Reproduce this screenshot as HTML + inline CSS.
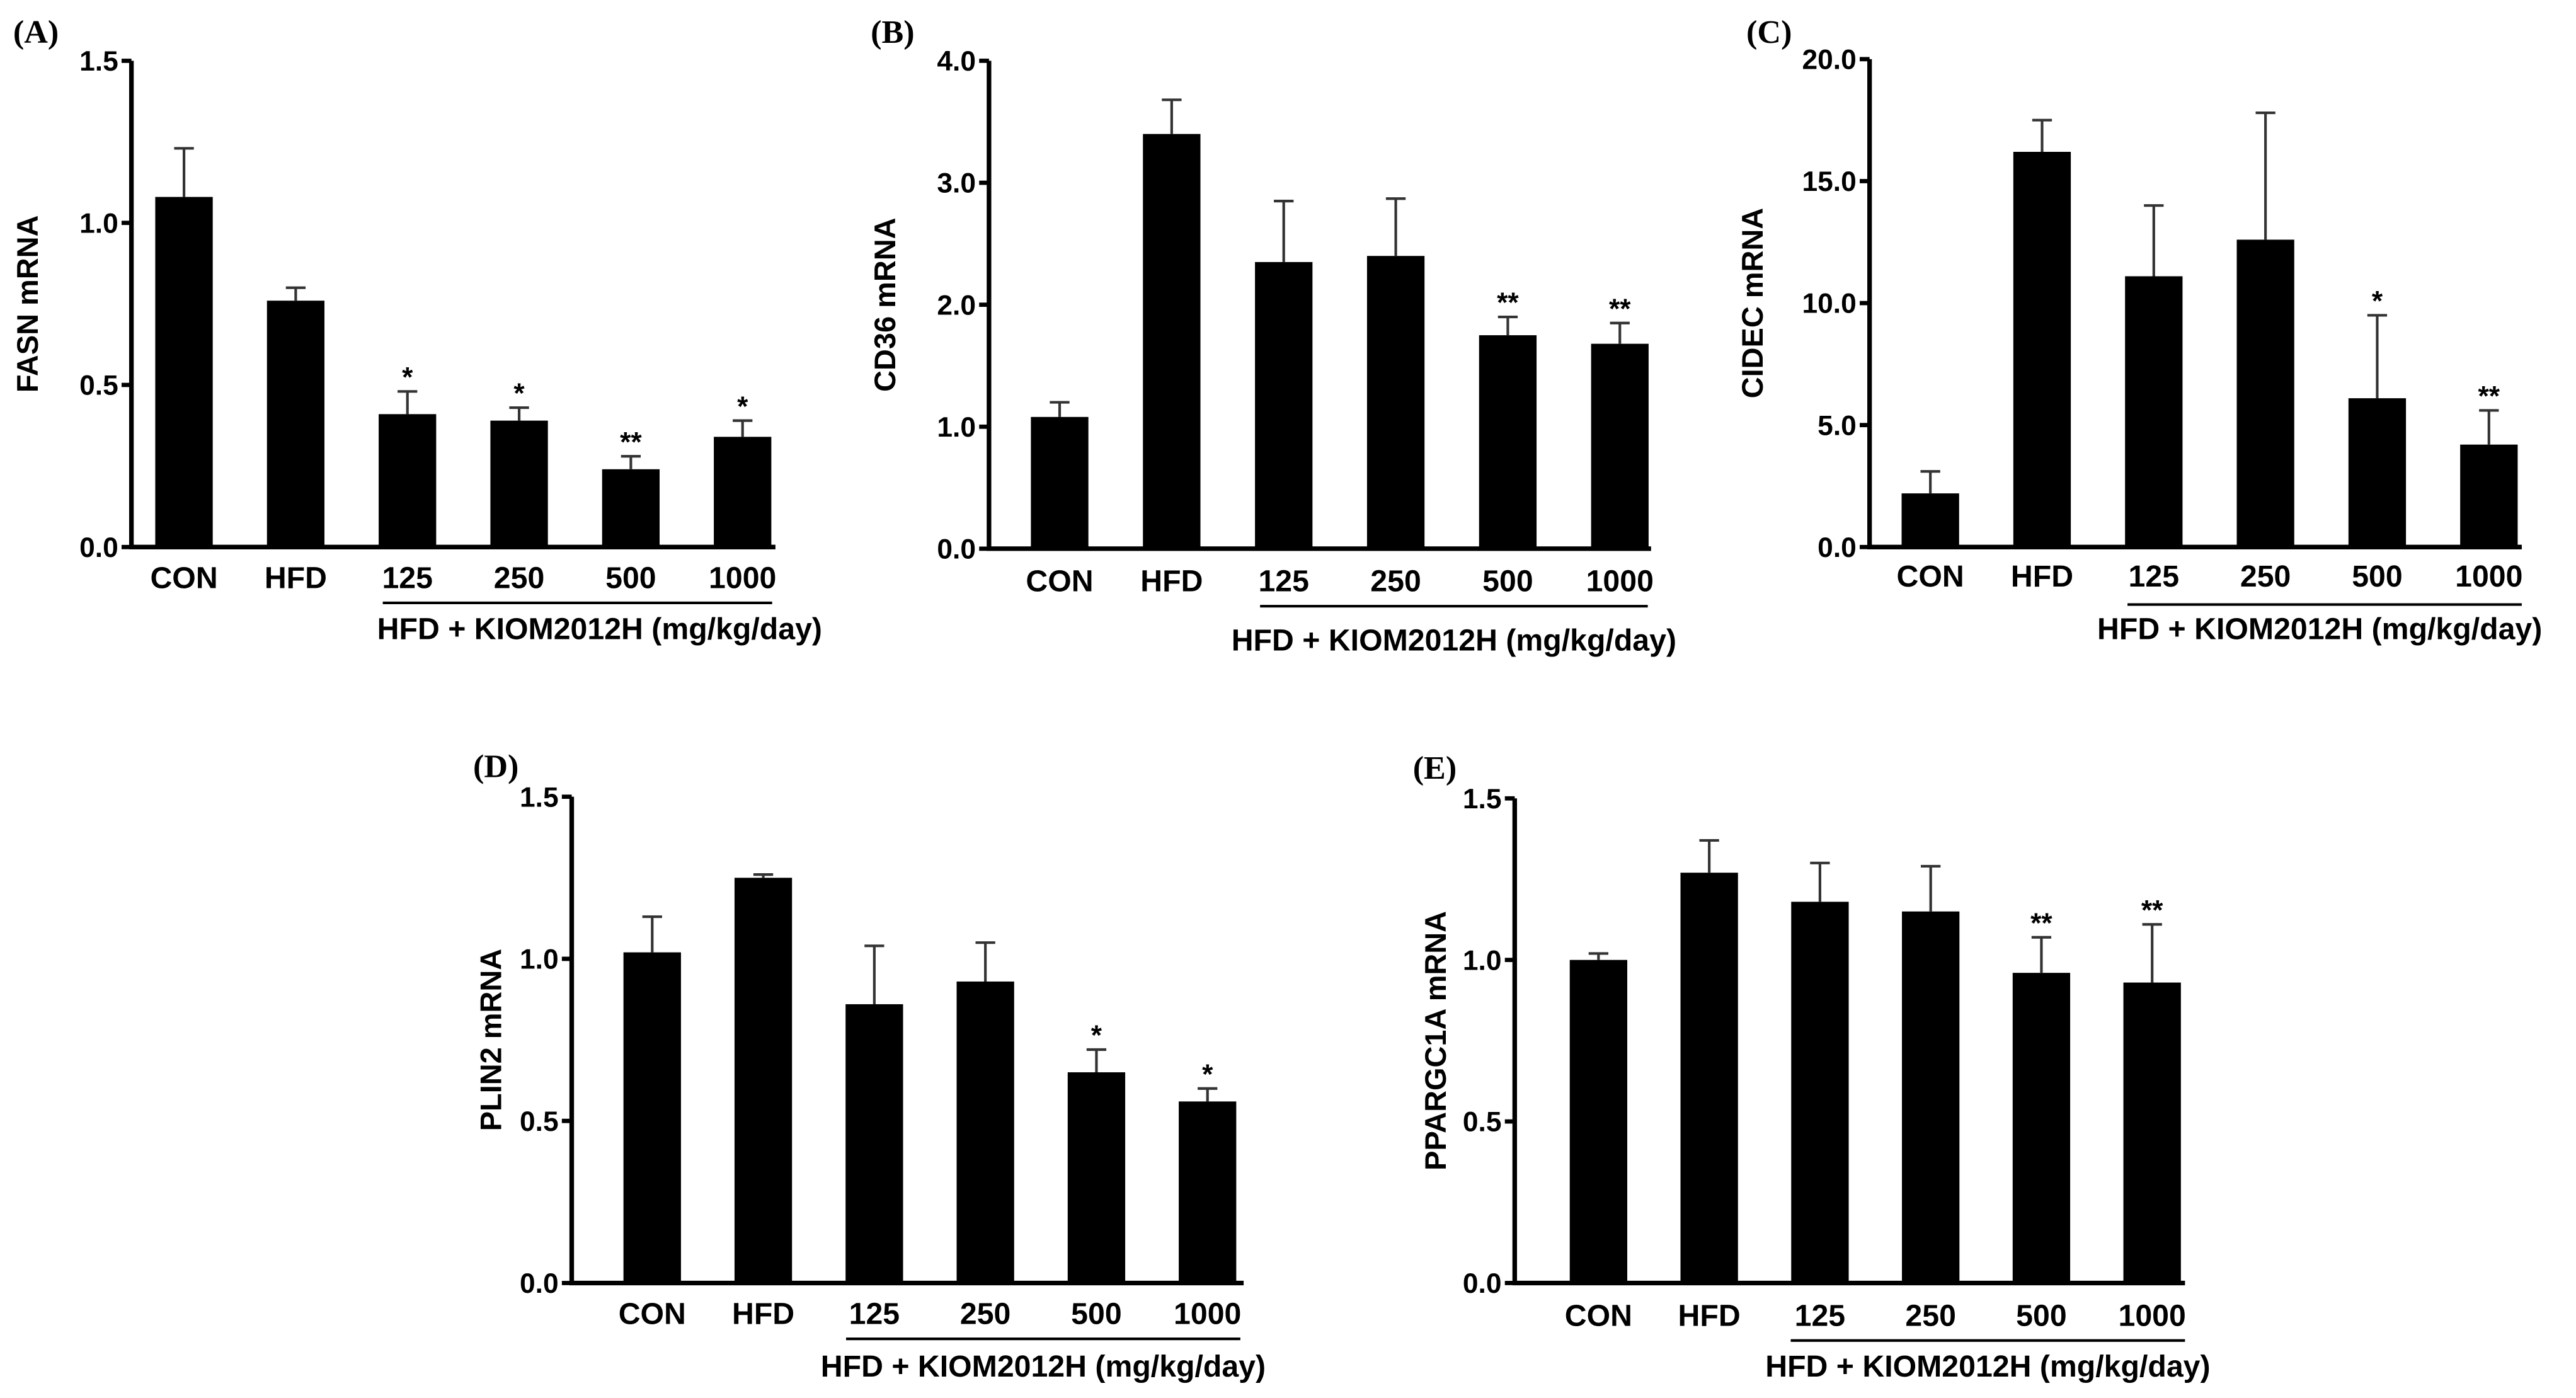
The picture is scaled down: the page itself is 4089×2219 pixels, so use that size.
<!DOCTYPE html>
<html><head><meta charset="utf-8"><style>
html,body{margin:0;padding:0;background:#fff;}
svg{display:block;}
text{font-family:"Liberation Sans",sans-serif;font-weight:bold;fill:#000;}
.pl{font-family:"Liberation Serif",serif;}
</style></head><body>
<svg id="fig" width="4089" height="2219" viewBox="0 0 1568 851" preserveAspectRatio="none" xmlns="http://www.w3.org/2000/svg"></svg>
<script>
const categories = ["CON","HFD","125","250","500","1000"];
const fasnValues = [1.08,0.76,0.41,0.39,0.24,0.34];
const fasnErrors = [0.15,0.04,0.07,0.04,0.04,0.05];
const fasnStars = ["","","*","*","**","*"];
const fasnTicks = ["0.0","0.5","1.0","1.5"];
const cd36Values = [1.08,3.40,2.35,2.40,1.75,1.68];
const cd36Errors = [0.12,0.28,0.50,0.47,0.15,0.17];
const cd36Stars = ["","","","","**","**"];
const cd36Ticks = ["0.0","1.0","2.0","3.0","4.0"];
const cidecValues = [2.2,16.2,11.1,12.6,6.1,4.2];
const cidecErrors = [0.9,1.3,2.9,5.2,3.4,1.4];
const cidecStars = ["","","","","*","**"];
const cidecTicks = ["0.0","5.0","10.0","15.0","20.0"];
const plin2Values = [1.02,1.25,0.86,0.93,0.65,0.56];
const plin2Errors = [0.11,0.01,0.18,0.12,0.07,0.04];
const plin2Stars = ["","","","","*","*"];
const plin2Ticks = ["0.0","0.5","1.0","1.5"];
const pgcValues = [1.00,1.27,1.18,1.15,0.96,0.93];
const pgcErrors = [0.02,0.10,0.12,0.14,0.11,0.18];
const pgcStars = ["","","","","**","**"];
const pgcTicks = ["0.0","0.5","1.0","1.5"];

const NS="http://www.w3.org/2000/svg";
const svg=document.getElementById('fig');
function mk(tag,attrs,parent){const e=document.createElementNS(NS,tag);for(const k in attrs)e.setAttribute(k,attrs[k]);(parent||svg).appendChild(e);return e;}

const panels=[
 {id:"a",label:"(A)",lx:8,ly:26,ax:80,top:37,bot:333,right:472,x0:112,step:68,yl:"FASN mRNA",ylx:18,vals:fasnValues,errs:fasnErrors,stars:fasnStars,ticks:fasnTicks,max:1.5,labY:358,ulY:367,ulX1:233,ulX2:470,capY:389,capX:365},
 {id:"b",label:"(B)",lx:530,ly:26,ax:602,top:37,bot:334,right:1005,x0:645,step:68.2,yl:"CD36 mRNA",ylx:540,vals:cd36Values,errs:cd36Errors,stars:cd36Stars,ticks:cd36Ticks,max:4.0,labY:360,ulY:369,ulX1:767,ulX2:1003,capY:396,capX:885},
 {id:"c",label:"(C)",lx:1063,ly:26,ax:1138,top:36,bot:333,right:1535,x0:1175,step:68,yl:"CIDEC mRNA",ylx:1068,vals:cidecValues,errs:cidecErrors,stars:cidecStars,ticks:cidecTicks,max:20,labY:357,ulY:368,ulX1:1295,ulX2:1535,capY:389,capX:1412},
 {id:"d",label:"(D)",lx:288,ly:473,ax:348,top:485,bot:781,right:757,x0:397,step:67.6,yl:"PLIN2 mRNA",ylx:300,vals:plin2Values,errs:plin2Errors,stars:plin2Stars,ticks:plin2Ticks,max:1.5,labY:806,ulY:815,ulX1:515,ulX2:755,capY:838,capX:635},
 {id:"e",label:"(E)",lx:860,ly:474,ax:922,top:486,bot:781,right:1330,x0:973,step:67.4,yl:"PPARGC1A mRNA",ylx:875,vals:pgcValues,errs:pgcErrors,stars:pgcStars,ticks:pgcTicks,max:1.5,labY:807,ulY:816,ulX1:1090,ulX2:1330,capY:838,capX:1210}
];

panels.forEach(p=>{
 const g=mk('g',{});
 
 
 const yScale=v=>p.bot-(v/p.max)*(p.bot-p.top);
 const xScale=i=>p.x0+i*p.step;
 const pl=mk('text',{x:p.lx,y:p.ly,'font-size':20,class:'pl'},g);pl.textContent=p.label;
 
 
 const bw=35;
 p.vals.forEach((v,i)=>{
  const cx=xScale(i),yt=yScale(v),ye=yScale(v+p.errs[i]);
  const b=mk('rect',{x:cx-bw/2,y:yt,width:bw,height:p.bot-yt,fill:'#000'},g);
  
  
  const e=mk('path',{d:`M${cx},${yt} V${ye} M${cx-6},${ye} H${cx+6}`,stroke:'#333',"stroke-width":1.6,fill:'none'},g);
  
  
  if(p.stars[i]){const s=mk('text',{x:cx,y:ye-3,'font-size':17,'text-anchor':'middle','font-weight':'normal'},g);s.textContent=p.stars[i];
   
   }
  const l=mk('text',{x:cx,y:p.labY,'font-size':18.5,'text-anchor':'middle'},g);l.textContent=categories[i];
  
  
 });
 const ax=mk('path',{d:`M${p.ax},${p.top} V${p.bot} H${p.right}`,stroke:'#000','stroke-width':2.8,fill:'none'},g);
 
 
 p.ticks.forEach((t,i)=>{
  const y=yScale(parseFloat(t));
  mk('line',{x1:p.ax-6,x2:p.ax,y1:y,y2:y,stroke:'#000','stroke-width':2.6},g);
  const tl=mk('text',{x:p.ax-8,y:y+6,'font-size':17,'text-anchor':'end'},g);tl.textContent=t;
  
  
 });
 const cy=(p.top+p.bot)/2;
 const yl=mk('text',{x:p.ylx,y:cy,'font-size':18,'text-anchor':'middle',transform:`rotate(-90 ${p.ylx} ${cy})`,dy:5},g);yl.textContent=p.yl;
 
 
 mk('line',{x1:p.ulX1,x2:p.ulX2,y1:p.ulY,y2:p.ulY,stroke:'#000','stroke-width':1.6},g);
 const cap=mk('text',{x:p.capX,y:p.capY,'font-size':18.5,'text-anchor':'middle'},g);cap.textContent="HFD + KIOM2012H (mg/kg/day)";
 
 
});
</script>
</body></html>
